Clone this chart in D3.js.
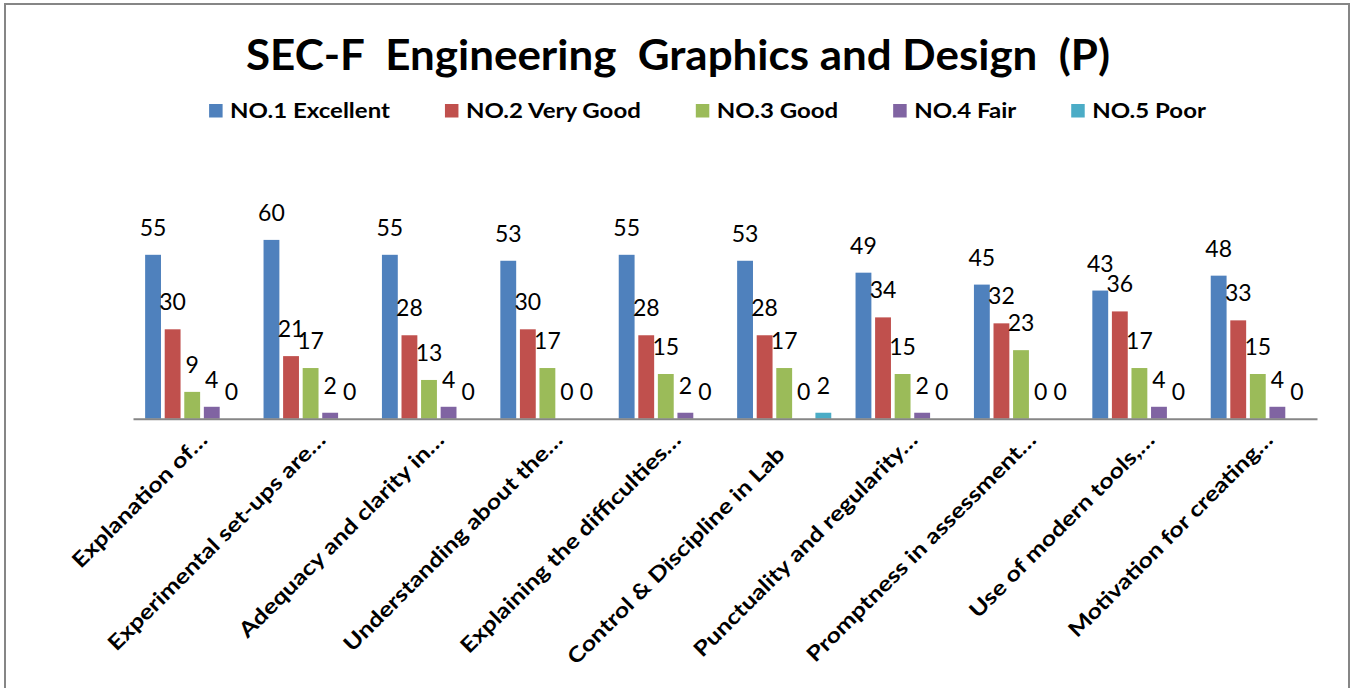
<!DOCTYPE html>
<html>
<head>
<meta charset="utf-8">
<script src="https://cdn.jsdelivr.net/npm/d3@7"></script>
<style>
  html, body { margin: 0; padding: 0; background: #fff; }
  svg text { font-family: "Lato", "Open Sans", "Liberation Sans", sans-serif; }
</style>
</head>
<body>
<svg id="chart" width="1357" height="688"></svg>
<script>
// ---- data ----
const titleText = "SEC-F  Engineering  Graphics and Design  (P)";
const categories = [
  "Explanation of…",
  "Experimental set-ups are…",
  "Adequacy and clarity in…",
  "Understanding about the…",
  "Explaining the difficulties…",
  "Control & Discipline in Lab",
  "Punctuality and regularity…",
  "Promptness in assessment…",
  "Use of modern tools,…",
  "Motivation for creating…"
];
const seriesNames = ["NO.1 Excellent", "NO.2 Very Good", "NO.3 Good", "NO.4 Fair", "NO.5 Poor"];
const excellent = [55, 60, 55, 53, 55, 53, 49, 45, 43, 48];
const veryGood  = [30, 21, 28, 30, 28, 28, 34, 32, 36, 33];
const good      = [9, 17, 13, 17, 15, 17, 15, 23, 17, 15];
const fair      = [4, 2, 4, 0, 2, 0, 2, 0, 4, 4];
const poor      = [0, 0, 0, 0, 0, 2, 0, 0, 0, 0];
const seriesValues = [excellent, veryGood, good, fair, poor];
const colors = ["#4F81BD", "#C0504D", "#9BBB59", "#8064A2", "#4BACC6"];

// ---- layout ----
const svg = d3.select("#chart");
const W = 1357, H = 688;
const plot = { left: 133, right: 1317, base: 418.7, top: 210.1 };
const textStretch = 1.2;

svg.append("rect").attr("width", W).attr("height", H).attr("fill", "#fff");
svg.append("rect")
  .attr("x", 5).attr("y", 4).attr("width", 1344).attr("height", 700)
  .attr("fill", "none").attr("stroke", "#868686").attr("stroke-width", 2);

const x = d3.scaleBand().domain(categories).range([plot.left, plot.right]).padding(0);
const xi = d3.scaleBand().domain(seriesNames).range([0, x.bandwidth()])
  .paddingInner(0.19).paddingOuter(0.62);
const y = d3.scaleLinear().domain([0, 70]).range([plot.base, plot.top]);

// title
svg.append("text")
  .attr("x", 678).attr("y", 70)
  .attr("text-anchor", "middle")
  .style("white-space", "pre")
  .attr("font-size", 42).attr("font-weight", 700)
  .attr("textLength", 864).attr("lengthAdjust", "spacingAndGlyphs")
  .text(titleText);

// legend
const legend = svg.append("g");
const legendItems = legend.selectAll("g").data(seriesNames).join("g");
legendItems.append("rect")
  .attr("width", 13.5).attr("height", 13.5).attr("y", 104)
  .attr("fill", (d, i) => colors[i]);
legendItems.append("text")
  .attr("y", 117.7).attr("font-size", 20).attr("font-weight", 700)
  .text(d => d)
  .each(function () {
    const w = this.getComputedTextLength() * textStretch;
    d3.select(this).attr("textLength", w).attr("lengthAdjust", "spacingAndGlyphs");
    this.__w = w;
  });
{
  const gapSq = 7.5, gapItem = 55;
  let widths = [];
  legendItems.each(function () { widths.push(13.5 + gapSq + d3.select(this).select("text").node().__w); });
  const total = d3.sum(widths) + gapItem * (widths.length - 1);
  let cx = 707.5 - total / 2;
  legendItems.each(function (d, i) {
    const g = d3.select(this);
    g.select("rect").attr("x", cx);
    g.select("text").attr("x", cx + 13.5 + gapSq);
    cx += widths[i] + gapItem;
  });
}

// bars
const groups = svg.append("g").selectAll("g").data(categories).join("g")
  .attr("transform", d => `translate(${x(d)},0)`);
const cells = groups.selectAll("g")
  .data((c, ci) => seriesNames.map((s, si) => ({ s, si, v: seriesValues[si][ci] })))
  .join("g");
cells.append("rect")
  .attr("x", d => xi(d.s))
  .attr("width", xi.bandwidth())
  .attr("y", d => y(d.v))
  .attr("height", d => y(0) - y(d.v))
  .attr("fill", d => colors[d.si]);
cells.append("text")
  .attr("x", d => xi(d.s) + xi.bandwidth() / 2)
  .attr("y", d => y(d.v) - 19)
  .attr("text-anchor", "middle")
  .attr("font-size", 23)
  .attr("fill", "#000")
  .text(d => d.v);

// x axis
const xAxis = svg.append("g")
  .attr("transform", `translate(0,${plot.base})`)
  .call(d3.axisBottom(x).tickSize(0).tickSizeOuter(0).tickFormat(""));
xAxis.select(".domain").attr("stroke", "#868686").attr("stroke-width", 2);

// category labels
svg.append("g").selectAll("text").data(categories).join("text")
  .attr("transform", d => {
    const c = x(d) + x.bandwidth() / 2;
    const ell = d.endsWith("…");
    const px = ell ? c + 16.5 : c + 2;
    const py = ell ? plot.base + 22.5 : plot.base + 37;
    return `translate(${px},${py}) rotate(-45)`;
  })
  .attr("text-anchor", "end")
  .attr("font-size", 21).attr("font-weight", 700)
  .text(d => d)
  .each(function () {
    const w = this.getComputedTextLength() * textStretch;
    d3.select(this).attr("textLength", w).attr("lengthAdjust", "spacingAndGlyphs");
  });
</script>
</body>
</html>
